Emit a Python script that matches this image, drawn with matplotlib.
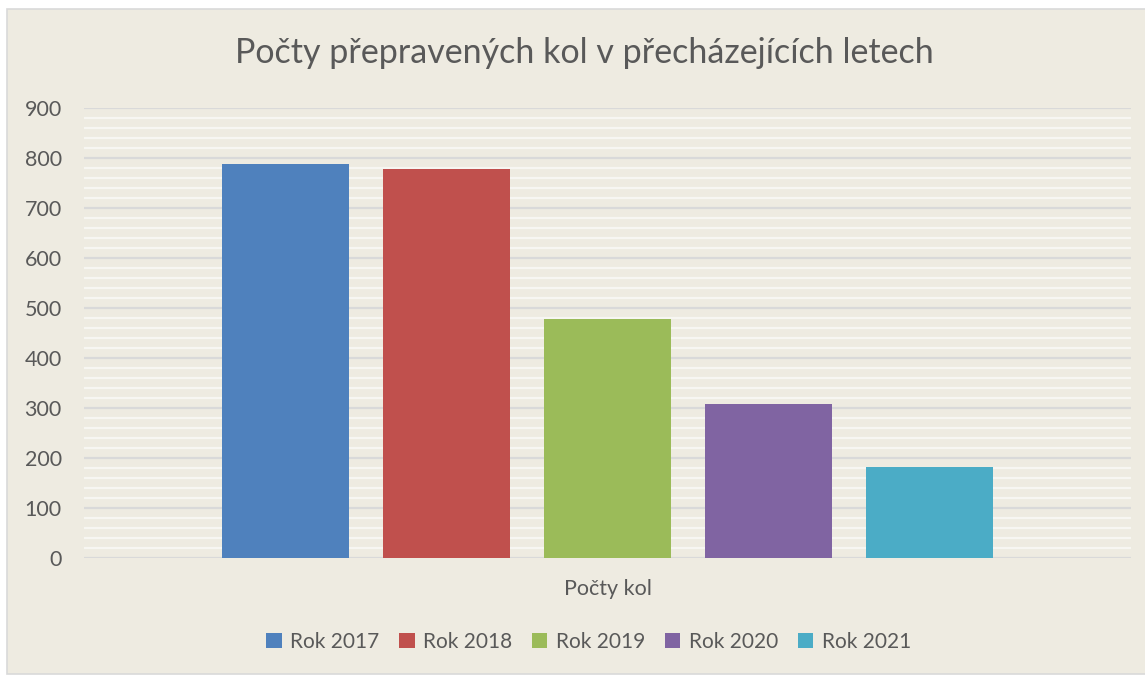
import numpy as np
import matplotlib
matplotlib.use("Agg")
import matplotlib.pyplot as plt
from matplotlib.patches import Rectangle, Patch
from matplotlib.ticker import MultipleLocator

# data
years = ["Rok 2017", "Rok 2018", "Rok 2019", "Rok 2020", "Rok 2021"]
counts = [788, 778, 478, 308, 182]
colors = ["#4F81BD", "#C0504D", "#9BBB59", "#8064A2", "#4BACC6"]

title = "Počty přepravených kol v přecházejících letech"
xlabel = "Počty kol"

BG = "#EEEBE1"
TXT = "#595959"

plt.rcParams["font.family"] = ["Lato", "DejaVu Sans"]

fig = plt.figure(figsize=(11.45, 6.75), dpi=100, facecolor="white")
# chart frame
fig.patches.append(Rectangle((7 / 1145, 0.002), 1.0, 1 - 9 / 675 - 0.002,
                             transform=fig.transFigure, facecolor=BG,
                             edgecolor="#D9D9D9", linewidth=1.2, zorder=-5))

ax = fig.add_axes([84 / 1145, 1 - 558 / 675, (1131 - 84) / 1145, 450 / 675])
ax.set_facecolor(BG)
ax.patch.set_alpha(0)

x = np.arange(len(years))
ax.bar(x, counts, width=0.789, color=colors, zorder=3)

ax.set_xlim(-1.2516, len(years) - 1 + 1.2516)
ax.set_ylim(0, 900)
ax.yaxis.set_major_locator(MultipleLocator(100))
ax.yaxis.set_minor_locator(MultipleLocator(20))
ax.grid(axis="y", which="minor", color="#F7F6F2", linewidth=1.6, zorder=1)
ax.grid(axis="y", which="major", color="#D9D9D9", linewidth=1.6, zorder=2)
ax.set_xticks([])
ax.tick_params(axis="y", which="both", length=0, labelsize=15.5, labelcolor=TXT, pad=16)
for s in ax.spines.values():
    s.set_visible(False)

ax.set_xlabel(xlabel, fontsize=15.5, color=TXT, labelpad=15)

fig.text(0.51, 1 - 53 / 675, title, ha="center", va="center",
         fontsize=24.5, color=TXT)

handles = [Patch(facecolor=c, label=l) for c, l in zip(colors, years)]
fig.legend(handles=handles, loc="center", bbox_to_anchor=(0.514, 1 - 642 / 675),
           ncol=5, frameon=False, fontsize=15, labelcolor=TXT,
           handlelength=0.75, handleheight=0.75, handletextpad=0.4,
           columnspacing=0.95)

fig.savefig("out.png", dpi=100, facecolor="white")
